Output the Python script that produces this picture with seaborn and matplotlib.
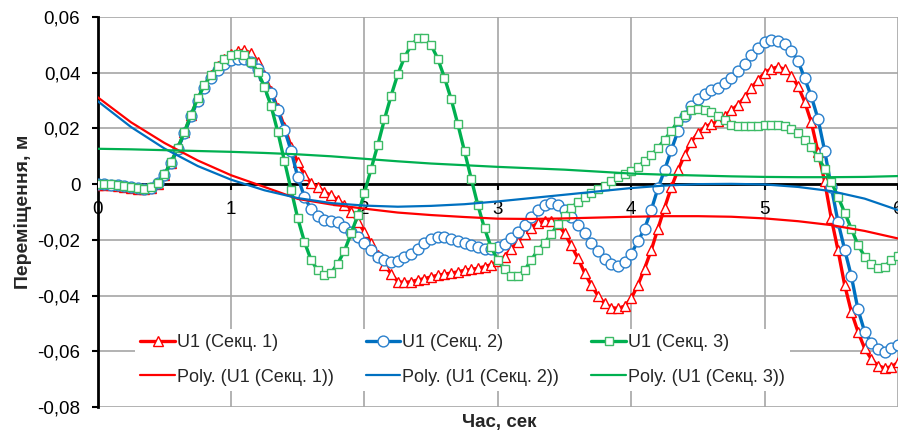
import numpy as np
import pandas as pd
import matplotlib
matplotlib.use("Agg")
import matplotlib.pyplot as plt
from matplotlib.ticker import FuncFormatter, MultipleLocator
import seaborn as sns

# sampling step of the measured series, s
step = 0.05

# U1 (Секц. 1), m
u1_s1 = [-0.0002, -0.0003, -0.0004, -0.0006, -0.0009, -0.0013, -0.0017, -0.0019, -0.0015, 0.0002,
         0.0032, 0.0077, 0.0128, 0.0186, 0.0247, 0.0305, 0.0353, 0.0392, 0.0425, 0.0450,
         0.0467, 0.0478, 0.0481, 0.0470, 0.0439, 0.0391, 0.0335, 0.0272, 0.0206, 0.0135,
         0.0078, 0.0034, 0.0003, -0.0010, -0.0028, -0.0040, -0.0057, -0.0075, -0.0099, -0.0135,
         -0.0172, -0.0210, -0.0255, -0.0292, -0.0322, -0.0350, -0.0353, -0.0350, -0.0344, -0.0339,
         -0.0333, -0.0327, -0.0323, -0.0319, -0.0315, -0.0309, -0.0306, -0.0302, -0.0296, -0.0289,
         -0.0277, -0.0260, -0.0232, -0.0208, -0.0178, -0.0156, -0.0139, -0.0132, -0.0133, -0.0144,
         -0.0176, -0.0220, -0.0266, -0.0318, -0.0362, -0.0400, -0.0428, -0.0443, -0.0446, -0.0438,
         -0.0410, -0.0362, -0.0303, -0.0237, -0.0160, -0.0085, -0.0012, 0.0050, 0.0104, 0.0152,
         0.0184, 0.0205, 0.0216, 0.0225, 0.0245, 0.0265, 0.0285, 0.0312, 0.0345, 0.0374,
         0.0400, 0.0414, 0.0421, 0.0412, 0.0390, 0.0352, 0.0296, 0.0222, 0.0116, 0.0010,
         -0.0123, -0.0237, -0.0362, -0.0458, -0.0530, -0.0590, -0.0628, -0.0652, -0.0660, -0.0656,
         -0.0640]

# U1 (Секц. 2), m
u1_s2 = [0.0000, -0.0001, -0.0002, -0.0004, -0.0007, -0.0011, -0.0015, -0.0017, -0.0013, 0.0003,
         0.0032, 0.0076, 0.0126, 0.0183, 0.0243, 0.0300, 0.0345, 0.0381, 0.0410, 0.0431,
         0.0444, 0.0450, 0.0449, 0.0438, 0.0415, 0.0385, 0.0328, 0.0265, 0.0196, 0.0120,
         0.0025, -0.0046, -0.0090, -0.0114, -0.0128, -0.0131, -0.0136, -0.0155, -0.0171, -0.0189,
         -0.0213, -0.0237, -0.0261, -0.0273, -0.0279, -0.0275, -0.0263, -0.0249, -0.0233, -0.0213,
         -0.0198, -0.0191, -0.0190, -0.0196, -0.0204, -0.0212, -0.0220, -0.0227, -0.0232, -0.0232,
         -0.0226, -0.0216, -0.0195, -0.0171, -0.0147, -0.0117, -0.0093, -0.0075, -0.0069, -0.0075,
         -0.0093, -0.0117, -0.0147, -0.0177, -0.0210, -0.0240, -0.0268, -0.0288, -0.0295, -0.0280,
         -0.0250, -0.0205, -0.0160, -0.0093, -0.0015, 0.0050, 0.0122, 0.0190, 0.0245, 0.0280,
         0.0306, 0.0325, 0.0337, 0.0346, 0.0362, 0.0382, 0.0405, 0.0430, 0.0463, 0.0490,
         0.0511, 0.0518, 0.0515, 0.0502, 0.0478, 0.0443, 0.0380, 0.0315, 0.0235, 0.0120,
         -0.0010, -0.0135, -0.0235, -0.0330, -0.0450, -0.0530, -0.0570, -0.0592, -0.0602, -0.0590,
         -0.0578]

# U1 (Секц. 3), m
u1_s3 = [0.0000, 0.0000, -0.0001, -0.0003, -0.0006, -0.0010, -0.0014, -0.0016, -0.0012, 0.0005,
         0.0035, 0.0080, 0.0130, 0.0188, 0.0250, 0.0308, 0.0355, 0.0392, 0.0425, 0.0448,
         0.0462, 0.0468, 0.0463, 0.0440, 0.0403, 0.0350, 0.0280, 0.0188, 0.0083, -0.0020,
         -0.0123, -0.0207, -0.0273, -0.0309, -0.0327, -0.0318, -0.0285, -0.0239, -0.0177, -0.0111,
         -0.0031, 0.0055, 0.0141, 0.0233, 0.0318, 0.0395, 0.0455, 0.0499, 0.0523, 0.0523,
         0.0499, 0.0450, 0.0382, 0.0305, 0.0215, 0.0118, 0.0020, -0.0075, -0.0159, -0.0227,
         -0.0273, -0.0306, -0.0330, -0.0330, -0.0309, -0.0273, -0.0237, -0.0210, -0.0180, -0.0144,
         -0.0114, -0.0085, -0.0064, -0.0046, -0.0030, -0.0018, -0.0005, 0.0012, 0.0024, 0.0036,
         0.0049, 0.0063, 0.0082, 0.0103, 0.0130, 0.0160, 0.0190, 0.0226, 0.0250, 0.0265,
         0.0269, 0.0266, 0.0259, 0.0246, 0.0230, 0.0212, 0.0207, 0.0207, 0.0208, 0.0209,
         0.0211, 0.0213, 0.0213, 0.0210, 0.0198, 0.0183, 0.0160, 0.0133, 0.0098, 0.0055,
         0.0008, -0.0045, -0.0102, -0.0160, -0.0218, -0.0260, -0.0287, -0.0300, -0.0296, -0.0272,
         -0.0258]

# polynomial trend lines, read every 0.25 s
trend_step = 0.25
poly_s1 = [0.0312, 0.0222, 0.0148, 0.0085, 0.0032, -0.0010, -0.0053, -0.0073, -0.0088, -0.0102,
           -0.0111, -0.0118, -0.0124, -0.0125, -0.0123, -0.0120, -0.0117, -0.0115, -0.0115, -0.0117,
           -0.0123, -0.0133, -0.0147, -0.0168, -0.0195]
poly_s2 = [0.0298, 0.0205, 0.0128, 0.0065, 0.0016, -0.0022, -0.0050, -0.0068, -0.0077, -0.0081,
           -0.0078, -0.0072, -0.0062, -0.0050, -0.0038, -0.0026, -0.0014, -0.0005, 0.0000, 0.0001,
           -0.0001, -0.0010, -0.0025, -0.0052, -0.0093]
poly_s3 = [0.0127, 0.0125, 0.0122, 0.0119, 0.0116, 0.0112, 0.0107, 0.0100, 0.0091, 0.0082,
           0.0074, 0.0068, 0.0062, 0.0057, 0.0052, 0.0045, 0.0038, 0.0034, 0.0031, 0.0028,
           0.0026, 0.0025, 0.0025, 0.0026, 0.0029]

labels = ["U1 (Секц. 1)", "U1 (Секц. 2)", "U1 (Секц. 3)"]
trend_labels = ["Poly. (U1 (Секц. 1))", "Poly. (U1 (Секц. 2))", "Poly. (U1 (Секц. 3))"]

t = np.arange(len(u1_s1)) * step
t_trend = np.arange(len(poly_s1)) * trend_step

sns.set_style("white")
plt.rcParams['font.family'] = ['Liberation Sans', 'DejaVu Sans']

fig = plt.figure(figsize=(8.98, 4.32), dpi=100)
ax = fig.add_axes([0.1088, 0.0579, 0.8912, 0.9027])

colors = ["#FF0000", "#0070C0", "#00B050"]
edge_colors = ["#FF0000", "#2A80CC", "#3DBB66"]
markers = ["^", "o", "s"]
msizes = [7.5, 7.8, 6.3]

series = [u1_s1, u1_s2, u1_s3]
trends = [poly_s1, poly_s2, poly_s3]

for vals, c, ec, m, ms, lab in zip(series, colors, edge_colors, markers, msizes, labels):
    sns.lineplot(x=t, y=vals, ax=ax, color=c, lw=2.4, marker=m, markersize=ms,
                 mfc="white", mec=ec, mew=1.0, label=lab, sort=False, estimator=None,
                 legend=False, zorder=3)

for vals, c, lab in zip(trends, colors, trend_labels):
    sns.lineplot(x=t_trend, y=vals, ax=ax, color=c, lw=1.6, label=lab, sort=False,
                 estimator=None, legend=False, zorder=4)

ax.set_xlim(0, 6)
ax.set_ylim(-0.08, 0.06)
ax.xaxis.set_major_locator(MultipleLocator(1))
ax.yaxis.set_major_locator(MultipleLocator(0.02))


def comma_fmt(v, pos):
    if abs(v) < 1e-9:
        return "0"
    return f"{v:.2f}".replace(".", ",")


ax.yaxis.set_major_formatter(FuncFormatter(comma_fmt))
ax.xaxis.set_major_formatter(FuncFormatter(lambda v, pos: f"{v:.0f}"))

ax.grid(True, color="#A6A6A6", lw=1.2, zorder=0)
ax.set_axisbelow(True)

ax.spines["top"].set_visible(False)
ax.spines["right"].set_visible(False)
ax.spines["left"].set_color("black")
ax.spines["left"].set_linewidth(2)
ax.spines["bottom"].set_position(("data", 0))
ax.spines["bottom"].set_color("black")
ax.spines["bottom"].set_linewidth(2)
ax.spines["bottom"].set_zorder(2.5)

ax.tick_params(axis="y", direction="out", length=4.5, width=1.5, pad=8, labelsize=13.5,
               left=True, colors="black")
ax.tick_params(axis="x", direction="out", length=4, width=1.5, pad=8, labelsize=13.5,
               bottom=True, colors="black")

ax.set_ylabel("Переміщення, м", fontsize=14, fontweight="bold")
ax.yaxis.set_label_coords(-0.082, 0.5)
ax.set_xlabel("")
ax.text(0.502, -0.04, "Час, сек", transform=ax.transAxes, ha="center", va="center",
        fontsize=13.5, fontweight="bold")

handles, labs = ax.get_legend_handles_labels()
order = [0, 3, 1, 4, 2, 5]
leg = ax.legend([handles[i] for i in order], [labs[i] for i in order], ncol=3,
                loc="center", bbox_to_anchor=(0.515, 0.1667), bbox_transform=fig.transFigure,
                fontsize=13, frameon=True, fancybox=False, framealpha=1, facecolor="white",
                edgecolor="none", handlelength=1.9, handletextpad=0.1, columnspacing=1.8,
                labelspacing=0.95, borderpad=0.3)
leg.set_zorder(10)

fig.savefig("out.png", dpi=100)
